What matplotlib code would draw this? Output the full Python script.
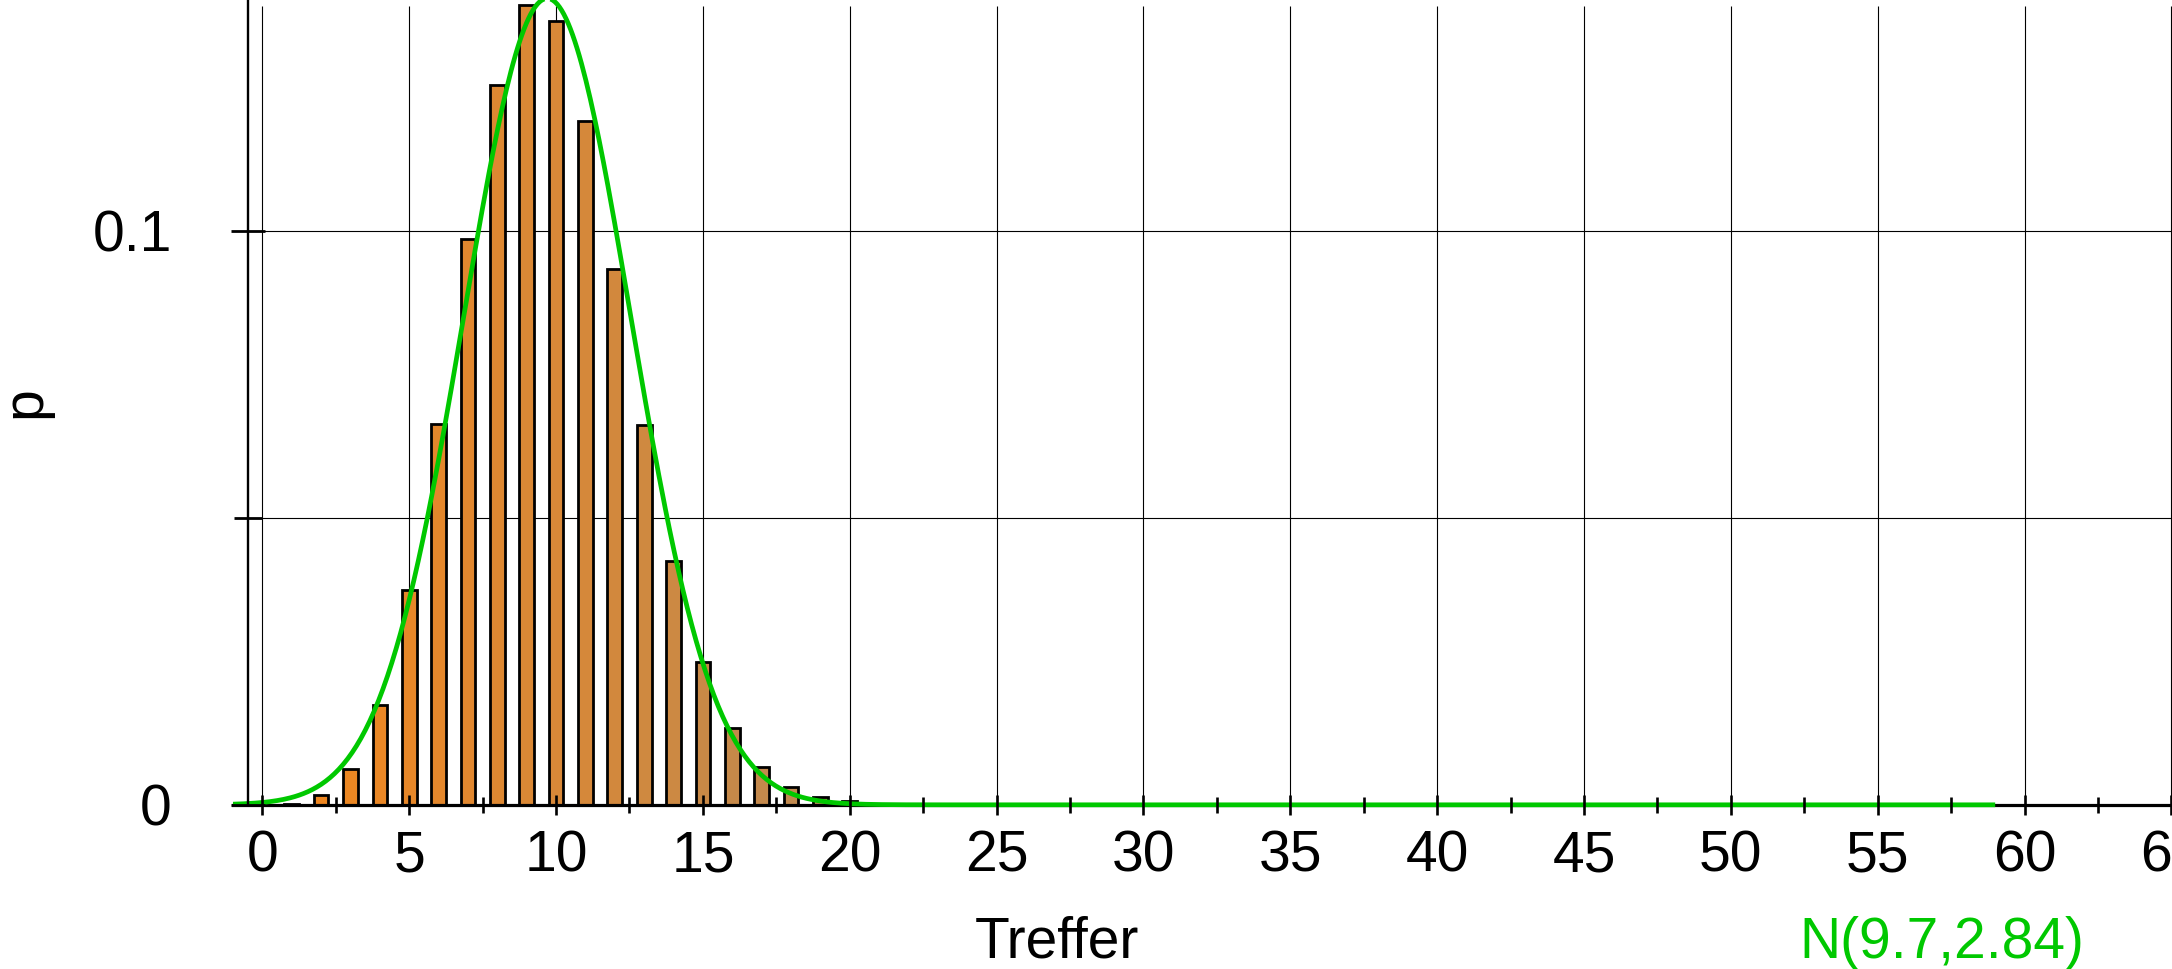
import numpy as np
import matplotlib.pyplot as plt
from matplotlib.colors import to_rgb

plt.rcParams['font.family'] = ['Liberation Sans', 'DejaVu Sans']

# Treffer k and probabilities
hits = list(range(0, 21))
probs = [0.00003, 0.0002, 0.0017, 0.0063, 0.0174, 0.0375, 0.0663, 0.0985,
         0.1254, 0.1393, 0.1366, 0.1191, 0.0933, 0.0661, 0.0424, 0.0249,
         0.0134, 0.0066, 0.0031, 0.0013, 0.0006]

mu = 9.7      # normal approximation N(9.7, 2.84)
sigma = 2.84
curve_from, curve_to = -1, 59

xticks_major = list(range(0, 70, 5))
xticks_minor = [t + 2.5 for t in range(0, 65, 5)]
yticks_major = [0, 0.1]
yticks_minor = [0.05]

# bar colour drifts from orange to tan, left to right
c0 = np.array(to_rgb('#f4861a'))
c1 = np.array(to_rgb('#bb8a55'))
bar_colors = [tuple(c0 + (c1 - c0) * i / (len(hits) - 1)) for i in range(len(hits))]

green = '#00c800'

fig = plt.figure(figsize=(21.72, 9.69), dpi=100)
ax = fig.add_axes([233 / 2172, 0, 1 - 233 / 2172, 1])
ymin, ymax = -0.0286, 0.1402
ax.set_xlim(-1, 65.02)
ax.set_ylim(ymin, ymax)

# grid
ax.vlines(xticks_major, 0, 0.1391, color='black', lw=0.8, zorder=0.5)
ax.hlines(yticks_minor + [0.1], -0.5, 66, color='black', lw=0.8, zorder=0.5)

ax.bar(hits, probs, width=0.5, color=bar_colors, edgecolor='black', linewidth=2, zorder=1)

xs = np.linspace(curve_from, curve_to, 800)
ax.plot(xs, np.exp(-0.5 * ((xs - mu) / sigma) ** 2) / (sigma * np.sqrt(2 * np.pi)),
        color=green, lw=3.4, zorder=2.2, solid_capstyle='butt')

ax.set_axisbelow(False)
for s in ['top', 'right']:
    ax.spines[s].set_visible(False)
ax.spines['bottom'].set_position(('data', 0))
ax.spines['bottom'].set_linewidth(2.3)
ax.spines['bottom'].set_zorder(1.9)
ax.spines['left'].set_position(('data', -0.5))
ax.spines['left'].set_bounds(0, ymax)
ax.spines['left'].set_linewidth(1.7)

ax.set_xticks(xticks_major)
ax.set_xticks(xticks_minor, minor=True)
ax.set_yticks(yticks_major, ['0', '0.1'])
ax.set_yticks(yticks_minor, minor=True)
ax.tick_params(axis='x', which='major', direction='inout', length=15, width=1.9,
               labelsize=41, pad=10)
ax.tick_params(axis='x', which='minor', direction='inout', length=11, width=1.9)
ax.tick_params(axis='y', which='major', direction='inout', length=25, width=2,
               labelsize=41, pad=42)
ax.tick_params(axis='y', which='minor', direction='inout', length=20, width=2)
ax.set_clip_on(False)

fig.text(25 / 2172, 1 - 402 / 969, 'p', rotation=90, fontsize=41, ha='center', va='center')
fig.text(1057 / 2172, 1 - 943 / 969, 'Treffer', fontsize=41, ha='center', va='center')
fig.text(1942 / 2172, 1 - 943 / 969, 'N(9.7,2.84)', fontsize=41, color=green,
         ha='center', va='center')

fig.savefig('out.png', dpi=100)
